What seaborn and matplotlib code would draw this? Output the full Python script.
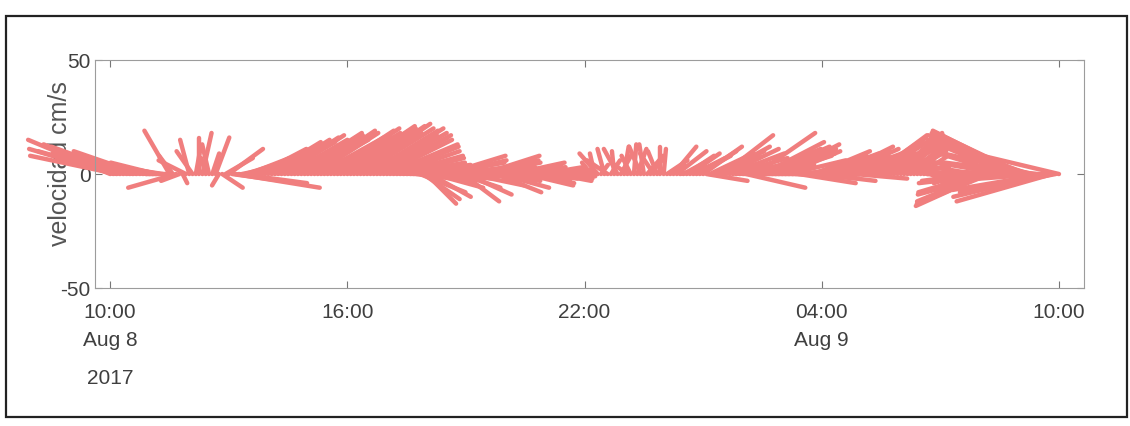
import numpy as np
import pandas as pd
import matplotlib
matplotlib.use("Agg")
import matplotlib.pyplot as plt
import matplotlib.transforms as mtransforms
from matplotlib.patches import Rectangle
import seaborn as sns

# Current-meter record, one sample every 5 minutes
record_start = "2017-08-08 10:00"
sample_step = "5min"

# East (u) velocity component, cm/s
u_cms = [
    -36, -37, -38, -36, -35, -33, -34, -33, -31, -29,
    -27, -26, -24, -22, -20, -17, -13, -9, -11, -6,
    -21, -8, 2, -12, -4, -7, 2, 0, 4, -2,
    -3, 3, 6, -3, 9, 12, 15, 22, 37, 30,
    15, 16, 18, 19, 20, 21, 22, 23, 23, 24,
    24, 25, 25, 26, 26, 27, 27, 28, 27, 28,
    27, 28, 28, 29, 28, 29, 29, 30, 29, 30,
    30, 31, 30, 31, 31, 32, 32, 32, 31, 32,
    32, 31, 31, 30, 31, 30, 29, 29, 28, 27,
    28, 27, 26, 24, 20, 16, 13, 18, 22, 25,
    26, 27, 26, 25, 24, 22, 18, 16, 20, 24,
    25, 26, 26, 25, 24, 23, 21, 20, 22, 24,
    24, 23, 23, 22, 22, 21, 21, 20, 20, 19,
    19, 18, 18, 17, 17, 16, 15, 14, 13, 12,
    11, 9, 8, 6, 4, 2, -4, -2, -8, 3,
    -3, -9, 4, -1, -6, 5, 2, -7, -4, 1,
    4, -5, -2, 7, 5, -6, -4, 0, 1, 9,
    6, 10, 13, 12, 11, 12, 13, 14, 15, 16,
    17, 18, 19, 20, 21, 22, 22, 23, 24, 24,
    25, 25, 26, 26, 27, 27, 26, 27, 27, 28,
    27, 26, 26, 25, 25, 24, 25, 26, 26, 25,
    25, 25, 24, 24, 24, 25, 25, 24, 24, 25,
    24, 24, 25, 25, 24, 24, 23, 23, 24, 24,
    24, 24, 23, 23, 24, 24, 23, 22, 21, 20,
    19, 18, 17, 15, 14, 13, 12, 10, 8, 7,
    6, 5, 4, 2, 1, -1, -3, -6, -9, -13,
    -16, -19, -22, -24, -27, -29, -31, -32, -33, -34,
    -35, -35, -36, -36, -37, -37, -38, -38, -39, -39,
    -39, -40, -40, -41, -41, -42, -42, -42, -42,
]
# North (v) velocity component, cm/s
v_cms = [
    15, 11, 8, 10, 13, 12, 9, 6, 8, 10,
    7, 5, 6, 4, 5, 3, 2, 0, 19, 8,
    -6, -3, -4, 6, 15, 10, 11, 16, 18, 7,
    13, 9, 16, -5, -6, 7, 11, -3, -6, -4,
    3, 5, 7, 6, 9, 11, 10, 12, 14, 13,
    15, 14, 16, 17, 15, 13, 16, 18, 17, 15,
    17, 19, 18, 16, 14, 17, 19, 20, 18, 16,
    19, 21, 20, 18, 21, 22, 20, 17, 19, 20,
    18, 16, 17, 15, 13, 12, 10, 8, 7, 5,
    4, 2, 0, -3, -8, -11, -13, -10, -6, -2,
    2, 5, 8, 6, 3, -1, -6, -12, -9, -5,
    -1, 3, 6, 8, 5, 2, -3, -8, -6, -2,
    1, 4, 5, 3, 0, -3, -5, -4, -2, 0,
    2, 3, 2, 0, -2, -3, -2, 0, 1, 1,
    0, -1, 0, 1, 0, 3, 5, 9, 9, 4,
    11, 6, 6, 10, 11, 9, 12, 5, 8, 13,
    11, 12, 13, 8, 6, 9, 10, 12, 11, 6,
    4, 12, 10, 3, 6, 8, 9, 7, 8, 10,
    12, -3, 9, 8, 10, 12, 17, 11, 9, 7,
    5, 3, 1, -6, 0, 4, 18, 11, 14, 12,
    10, 8, 9, 11, 13, 10, 6, 2, -1, -4,
    -2, 1, 5, 8, 10, -3, 9, 7, 6, 8,
    10, 12, 11, 9, 7, 5, -2, 6, 9, 12,
    14, 16, 17, 15, 13, 12, 14, 16, 18, 17,
    15, 12, 10, 13, 15, 12, 8, 4, 0, -4,
    -6, -5, -3, -1, 2, 4, 3, 1, -2, -4,
    -3, 0, 4, -3, -8, -12, -14, -13, -9, -4,
    1, 6, 11, 15, 17, 18, 19, 18, 16, 13,
    9, 5, 1, -3, -7, -10, -12, -8, 10,
]

tick_times = ["2017-08-08 10:00", "2017-08-08 16:00", "2017-08-08 22:00",
              "2017-08-09 04:00", "2017-08-09 10:00"]
tick_labels = ["10:00\nAug 8", "16:00", "22:00", "04:00\nAug 9", "10:00"]
year_label = "2017"
y_ticks = [-50, 0, 50]
y_label = "velocidad cm/s"

# Horizontal stick length: minutes of time axis per cm/s, keeps stick angles true
minutes_per_cms = 3.46

stick_color = "#f07e7e"
text_color = "#3f3f3f"
spine_color = "#9c9c9c"

sns.set_theme(style="white")
plt.rcParams["font.family"] = ["Liberation Sans", "DejaVu Sans"]
plt.rcParams["axes.unicode_minus"] = False

# Long-form table: each stick is a two-point line from (t, 0) to (t + u*k, v)
times = pd.date_range(record_start, periods=len(u_cms), freq=sample_step)
tips = times + pd.to_timedelta(np.asarray(u_cms, dtype=float) * minutes_per_cms, unit="min")
rows = []
for k, (t0, t1, v) in enumerate(zip(times, tips, v_cms)):
    rows.append({"stick": k, "time": t0, "vel": 0.0})
    rows.append({"stick": k, "time": t1, "vel": float(v)})
sticks = pd.DataFrame(rows)

fig = plt.figure(figsize=(11.3, 4.26), dpi=100)
ax = fig.add_axes([0.0841, 0.3239, 0.8752, 0.5352])

sns.lineplot(data=sticks, x="time", y="vel", units="stick", estimator=None,
             sort=False, color=stick_color, linewidth=3.2, clip_on=False,
             legend=False, ax=ax)

ax.set_xlim(pd.Timestamp("2017-08-08 09:37"), pd.Timestamp("2017-08-09 10:38"))
ax.set_ylim(-50, 50)
ax.set_xticks(pd.to_datetime(tick_times))
ax.set_xticklabels(tick_labels, linespacing=1.6)
ax.set_yticks(y_ticks)
ax.set_yticklabels([str(t) for t in y_ticks])
ax.set_xlabel("")
ax.set_ylabel(y_label, fontsize=18, color="#555555")
ax.yaxis.set_label_coords(-0.0233, 0.545)

ax.tick_params(axis="both", which="major", direction="in", length=5, width=0.8,
               color="#777777", labelsize=15, labelcolor=text_color,
               top=True, right=True, bottom=True, left=True)
ax.tick_params(axis="x", pad=11)
ax.tick_params(axis="y", pad=3)
for side in ["left", "right", "top", "bottom"]:
    ax.spines[side].set_visible(True)
    ax.spines[side].set_color(spine_color)
    ax.spines[side].set_linewidth(0.8)

# Year under the first date label
trans = mtransforms.blended_transform_factory(ax.transData, fig.transFigure)
ax.text(pd.Timestamp(tick_times[0]), 0.112, year_label, transform=trans,
        ha="center", va="center", fontsize=15, color=text_color)

# Page frame around the figure
fig.patches.append(Rectangle((0.0053, 0.021), 0.992, 0.941, transform=fig.transFigure,
                             fill=False, edgecolor="#222222", linewidth=1.6))

fig.savefig("out.png", dpi=100)
